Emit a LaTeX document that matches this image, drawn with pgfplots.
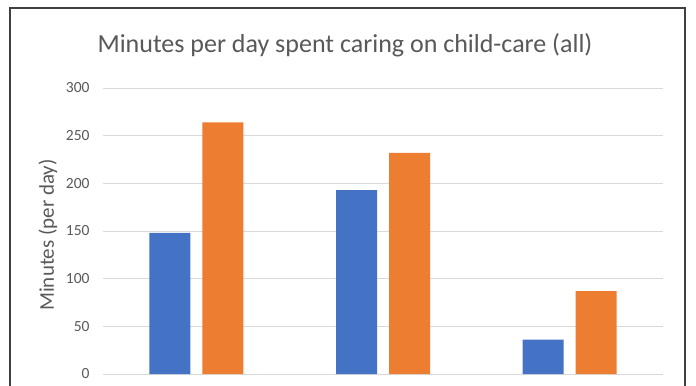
\documentclass[border=0pt]{standalone}
\usepackage{pgfplots}
\pgfplotsset{compat=1.18}
\usepackage{fontspec}
\setmainfont{Carlito}
\definecolor{xblue}{HTML}{4472C4}
\definecolor{xorange}{HTML}{ED7D31}
\definecolor{xgrid}{HTML}{D9D9D9}
\definecolor{xtext}{HTML}{595959}
\begin{document}
\begin{tikzpicture}[x=1bp,y=1bp]
\useasboundingbox (0,0) rectangle (696,385);
\clip (0,0) rectangle (696,385);
\fill[white] (0,0) rectangle (696,385);
\draw[line width=1.2bp, black!75] (10,-10) rectangle (685,377);
\node[text=xtext, font=\fontsize{26bp}{30bp}\selectfont] at (345,340) {Minutes per day spent caring on child-care (all)};
\begin{axis}[
  at={(103bp,11bp)}, anchor=south west,
  scale only axis, width=560bp, height=286bp,
  xmin=-0.5, xmax=2.5, ymin=0, ymax=300,
  ytick={0,50,...,300}, xtick=\empty,
  axis line style={draw=none},
  ymajorgrids, grid style={xgrid, line width=1bp},
  major tick length=0pt,
  ybar=12bp, bar width=41bp,
  yticklabel style={text=xtext, font=\fontsize{15.5bp}{18bp}\selectfont, xshift=-10bp},
  /pgf/number format/assume math mode=true,
  ylabel={Minutes (per day)},
  every axis y label/.style={at={(rel axis cs:0,0.5)}, rotate=90, anchor=center, yshift=55bp, xshift=-4bp, text=xtext, font=\fontsize{21bp}{24bp}\selectfont},
  clip=false,
]
\addplot[fill=xblue, draw=none] coordinates {(0,148) (1,193) (2,36)};
\addplot[fill=xorange, draw=none] coordinates {(0,264) (1,232) (2,87)};
\end{axis}
\end{tikzpicture}
\end{document}
